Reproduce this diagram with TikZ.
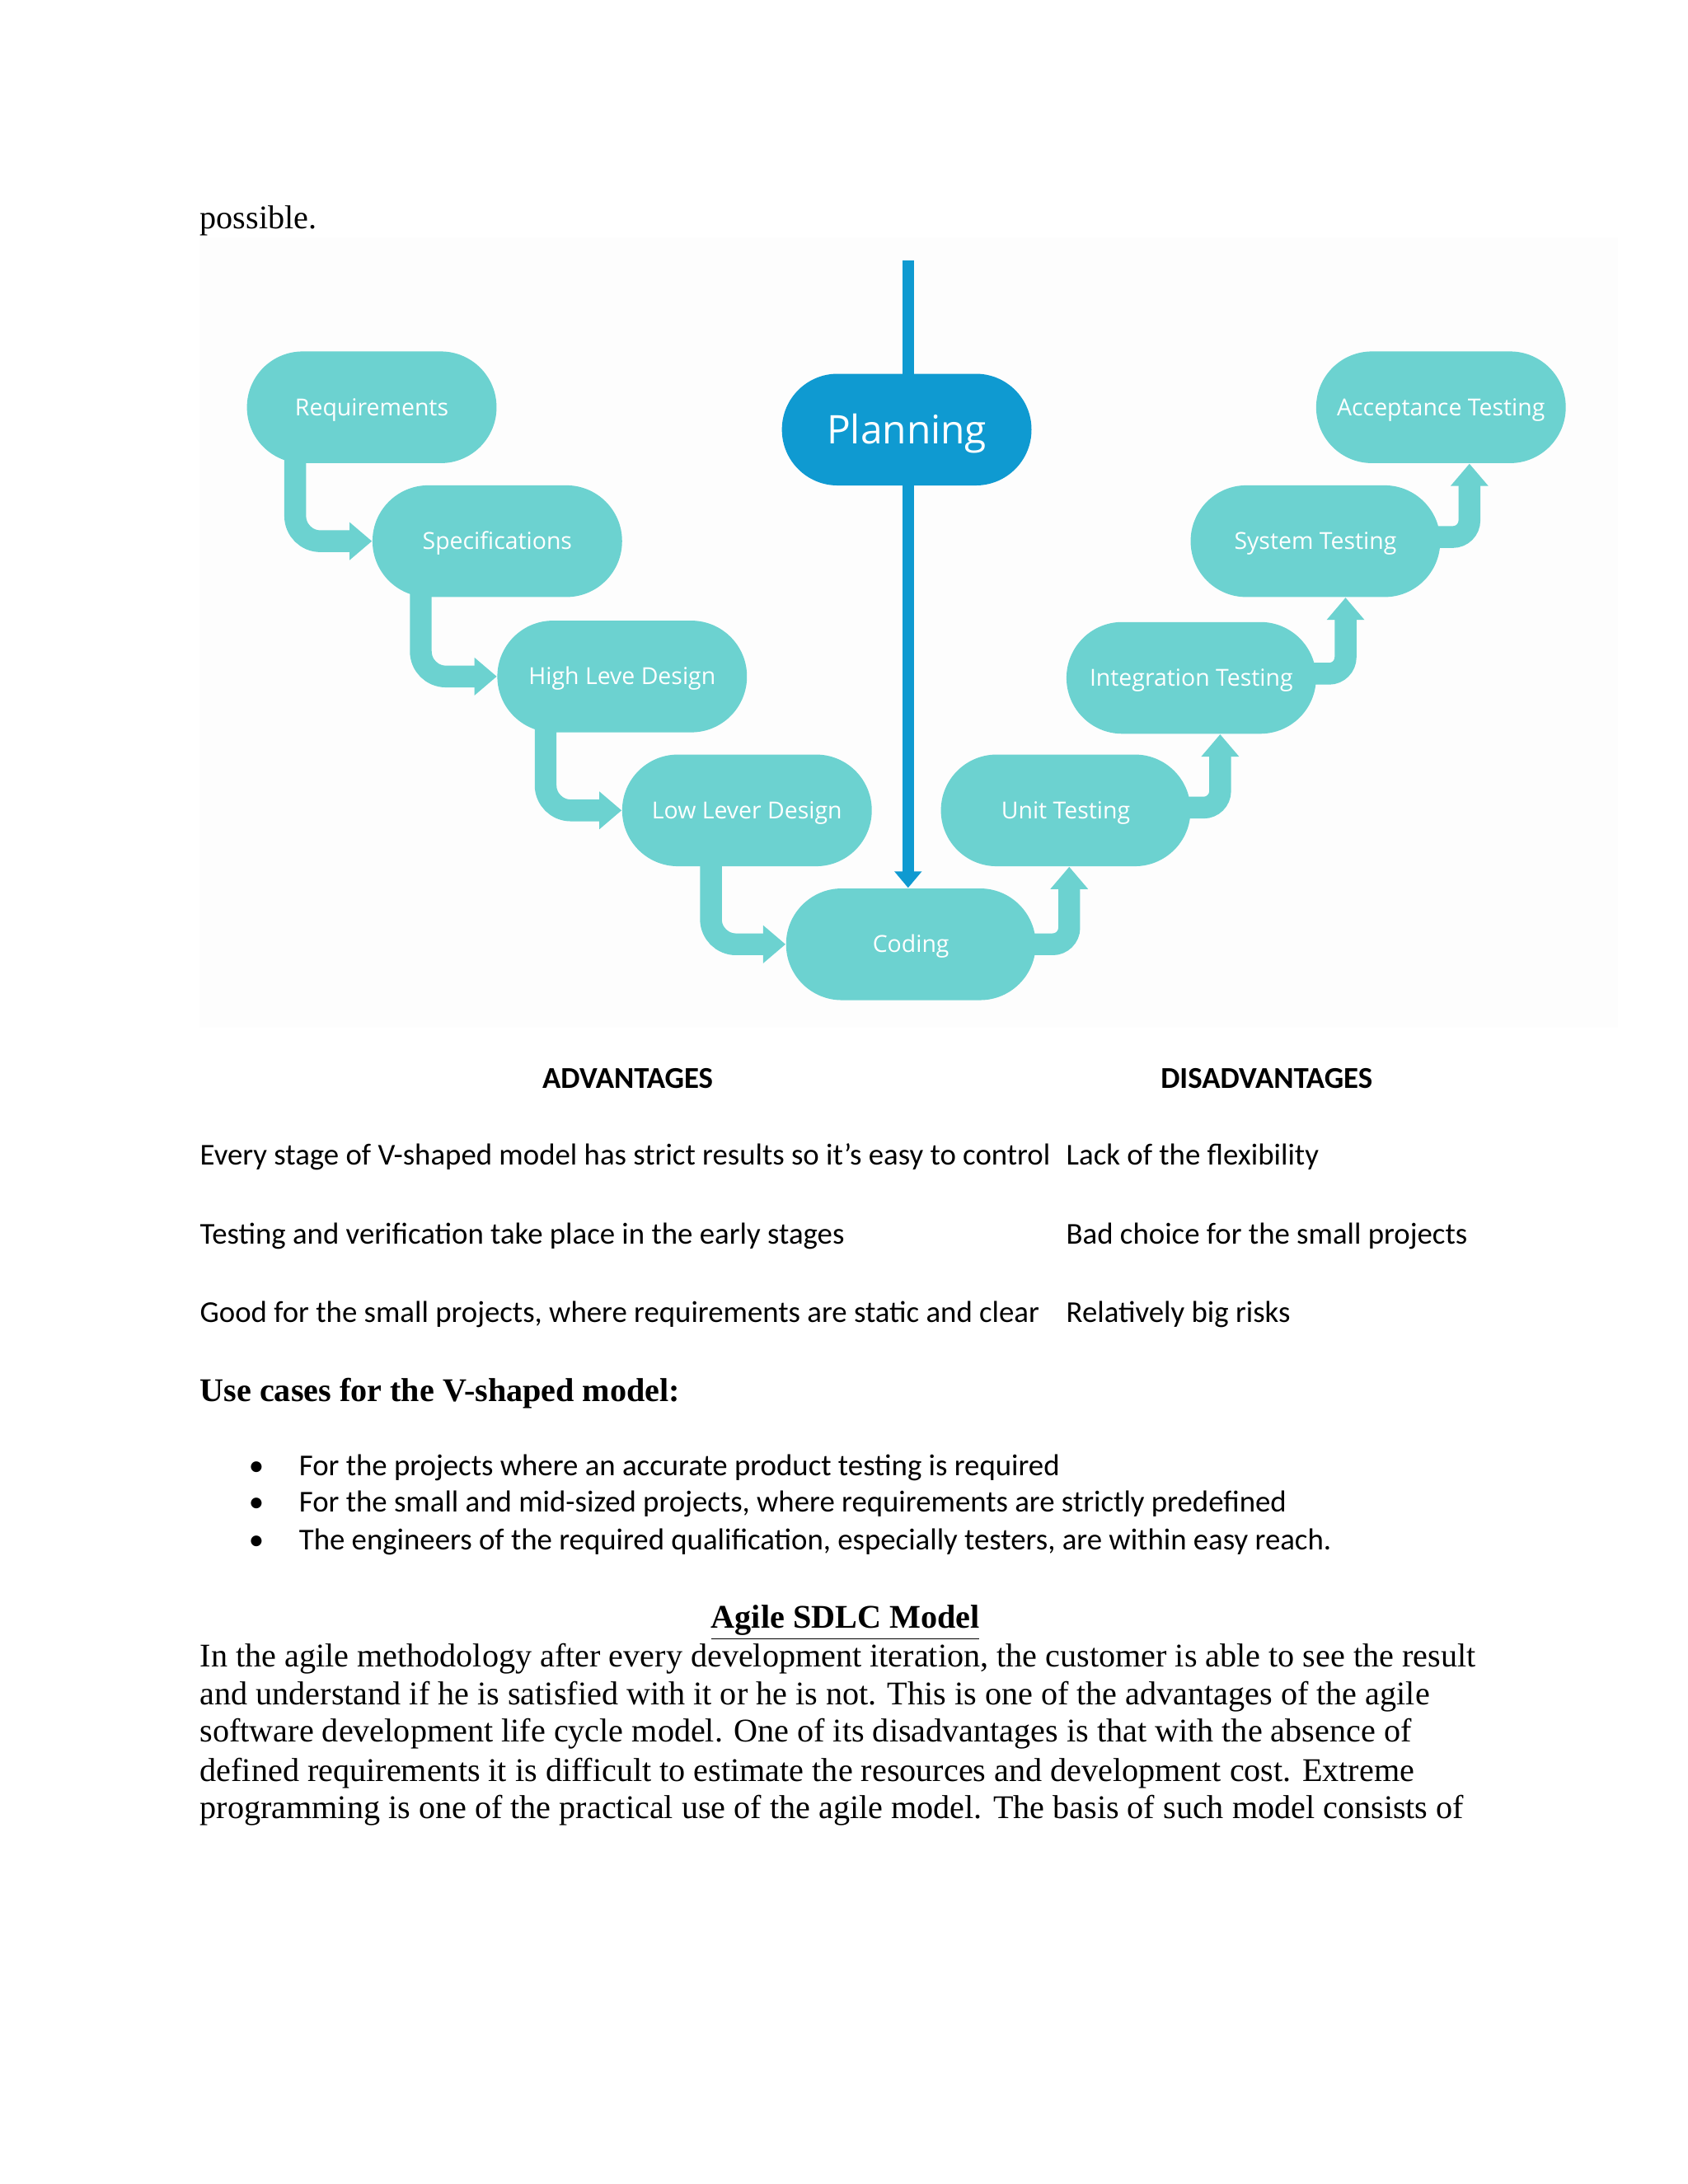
\documentclass[tikz,border=0pt]{standalone}
\usepackage{fontspec}
\setmainfont{Liberation Serif}
\newfontfamily\calfont{Carlito}
\newfontfamily\pillfont{Open Sans}
\usetikzlibrary{arrows.meta,backgrounds,calc}
\definecolor{tealpill}{RGB}{108,210,208}
\definecolor{planblue}{RGB}{15,154,209}
\definecolor{bgfaint}{RGB}{253,253,253}
\tikzset{
  pill/.style={rectangle, rounded corners=20.2bp, minimum width=90.5bp, minimum height=40.5bp,
    inner sep=0pt, fill=tealpill, text=white, text height=6bp, text depth=0pt,
    font=\pillfont\fontsize{8.5bp}{10bp}\selectfont},
  planpill/.style={pill, fill=planblue, text height=10.2bp, font=\pillfont\fontsize{14.3bp}{16bp}\selectfont},
  conn/.style={line width=7.9bp, draw=tealpill, -{Triangle[length=8.1bp,width=13.2bp]}},
  lconn/.style={conn, rounded corners=9.1bp},
  rconn/.style={conn, rounded corners=6bp},
  planline/.style={line width=4.3bp, draw=planblue, -{Triangle[length=6bp,width=9.6bp]}},
  body/.style={anchor=base west, inner sep=0pt, font=\fontsize{12bp}{13.8bp}\selectfont},
  cal/.style={anchor=base west, inner sep=0pt, font=\calfont\fontsize{11bp}{13.4bp}\selectfont},
  calhead/.style={anchor=base, inner sep=0pt, font=\calfont\bfseries\fontsize{11bp}{13.4bp}\selectfont}
}
\begin{document}
\begin{tikzpicture}[x=0.5058bp, y=-0.5058bp]
\useasboundingbox (0,0) rectangle (1210,1565.8);

% text above
\node[body] (possible) at (143,164) {possible.};

% pills
\node[pill] (req) at (266.5,292) {Requirements};
\node[pill] (spec) at (356.5,388) {Specifications};
\node[pill] (hld) at (446,485) {High Leve Design};
\node[pill] (lld) at (535.5,581) {Low Lever Design};
\node[pill] (cod) at (653,677) {Coding};
\node[pill] (unit) at (764,581) {Unit Testing};
\node[pill] (integ) at (854,486) {Integration Testing};
\node[pill] (sys) at (943,388) {System Testing};
\node[pill] (acc) at (1033,292) {Acceptance Testing};
\node[planpill] (plan) at (650,308) {Planning};
\coordinate (ptop) at (651,187);

\begin{pgfonlayer}{background}
  \fill[bgfaint] (143,170) rectangle (1160,737);
  \draw[planline] (ptop) -- (ptop |- cod.north);
  \draw[lconn] ($(req.west)+(35,0)$) |- (spec.west);
  \draw[lconn] ($(spec.west)+(35,0)$) |- (hld.west);
  \draw[lconn] ($(hld.west)+(35,0)$) |- (lld.west);
  \draw[lconn] ($(lld.west)+(64,0)$) |- (cod.west);
  \draw[rconn] (cod.center) -| ($(unit.south)+(2.5,0)$);
  \draw[rconn] ($(unit.center)+(0,-2)$) -| ($(integ.south)+(20.7,0)$);
  \draw[rconn] ($(integ.center)+(0,-3)$) -| ($(sys.south)+(21.6,0)$);
  \draw[rconn] ($(sys.center)+(0,-3)$) -| ($(acc.south)+(20.4,0)$);
\end{pgfonlayer}

% advantages / disadvantages
\node[calhead] (advh) at (450,780) {ADVANTAGES};
\node[calhead] (disadvh) at (908,780) {DISADVANTAGES};
\node[cal] (a1) at (143,835) {Every stage of V-shaped model has strict results so it’s easy to control};
\node[cal] (d1) at (764,835) {Lack of the flexibility};
\node[cal] (a2) at (143,892) {Testing and verification take place in the early stages};
\node[cal] (d2) at (764,892) {Bad choice for the small projects};
\node[cal] (a3) at (143,948) {Good for the small projects, where requirements are static and clear};
\node[cal] (d3) at (764,948) {Relatively big risks};

% use cases
\node[body, font=\bfseries\fontsize{12bp}{14bp}\selectfont] (uch) at (143,1005) {Use cases for the V-shaped model:};
\node[cal] (b1) at (178,1058) {\textbullet};
\node[cal] (u1) at (214,1058) {For the projects where an accurate product testing is required};
\node[cal] (b2) at (178,1084) {\textbullet};
\node[cal] (u2) at (214,1084) {For the small and mid-sized projects, where requirements are strictly predefined};
\node[cal] (b3) at (178,1111) {\textbullet};
\node[cal] (u3) at (214,1111) {The engineers of the required qualification, especially testers, are within easy reach.};

% agile
\node[anchor=base, inner sep=0pt, font=\bfseries\fontsize{12bp}{13.8bp}\selectfont] (agh) at (606,1167) {\underline{Agile SDLC Model}};
\node[body] (p1) at (143,1195) {In the agile methodology after every development iteration, the customer is able to see the result};
\node[body] (p2) at (143,1222) {and understand if he is satisfied with it or he is not. This is one of the advantages of the agile};
\node[body] (p3) at (143,1249) {software development life cycle model. One of its disadvantages is that with the absence of};
\node[body] (p4) at (143,1277) {defined requirements it is difficult to estimate the resources and development cost. Extreme};
\node[body] (p5) at (143,1304) {programming is one of the practical use of the agile model. The basis of such model consists of};
\end{tikzpicture}
\end{document}
